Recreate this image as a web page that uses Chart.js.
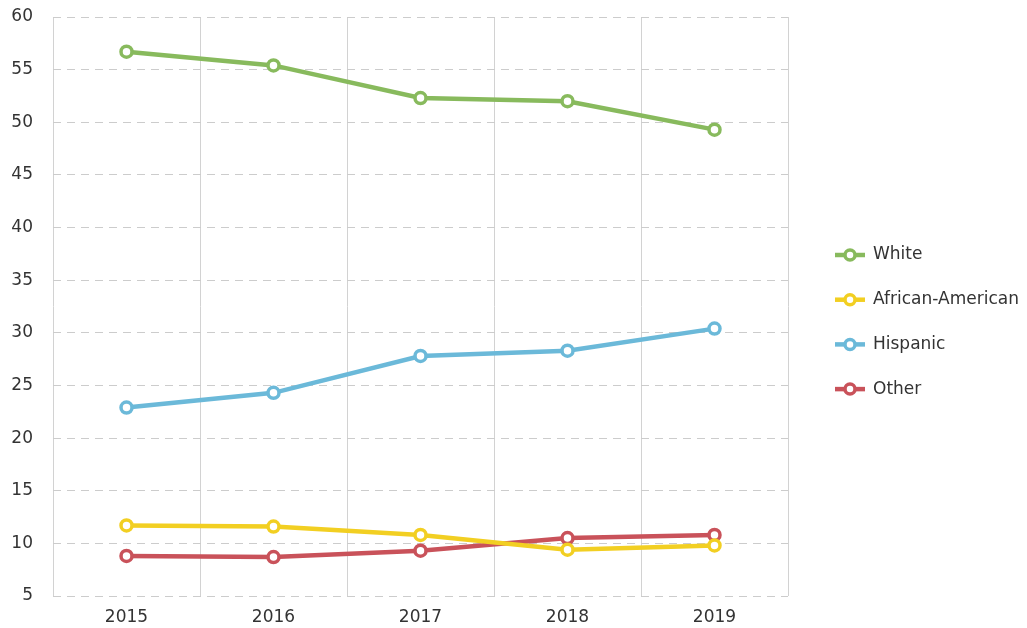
<!DOCTYPE html>
<html>
<head>
<meta charset="utf-8">
<script src="https://cdn.jsdelivr.net/npm/chart.js@4.4.0/dist/chart.umd.min.js"></script>
<style>
  html, body { margin: 0; padding: 0; background: #fff; }
  #wrap { width: 1027px; height: 628px; }
</style>
</head>
<body>
<div id="wrap"><canvas id="trendChart" width="1027" height="628"></canvas></div>
<script>
// Data
const years = ['2015', '2016', '2017', '2018', '2019'];
const white = [56.7, 55.4, 52.3, 52.0, 49.3];
const africanAmerican = [11.7, 11.6, 10.8, 9.4, 9.8];
const hispanic = [22.9, 24.3, 27.8, 28.3, 30.4];
const other = [8.8, 8.7, 9.3, 10.5, 10.8];

const seriesNames = ['White', 'African-American', 'Hispanic', 'Other'];
const seriesColors = ['#88ba5d', '#f2cf22', '#6bb9d9', '#c9525a'];

const FONT = '"DejaVu Sans", Verdana, sans-serif';
const TEXT = '#333333';

function makeDataset(label, data, color) {
    return {
        label: label,
        data: data,
        borderColor: color,
        backgroundColor: '#ffffff',
        borderWidth: 4.5,
        pointRadius: 5.5,
        pointHoverRadius: 5.5,
        pointBorderWidth: 3.5,
        pointBackgroundColor: '#ffffff',
        pointBorderColor: color,
        tension: 0,
        fill: false
    };
}

// Legend drawn to the right: short line with a hollow circle, then the name
const sideLegend = {
    id: 'sideLegend',
    afterDraw(chart) {
        const ctx = chart.ctx;
        const startY = 255;
        const step = 44.7;
        ctx.save();
        chart.data.datasets.forEach(function(ds, i) {
            const y = startY + i * step;
            ctx.strokeStyle = ds.borderColor;
            ctx.lineWidth = 4.5;
            ctx.beginPath();
            ctx.moveTo(835, y);
            ctx.lineTo(865, y);
            ctx.stroke();
            ctx.fillStyle = '#ffffff';
            ctx.lineWidth = 3.5;
            ctx.beginPath();
            ctx.arc(850, y, 5, 0, Math.PI * 2);
            ctx.fill();
            ctx.stroke();
            ctx.fillStyle = TEXT;
            ctx.font = '17px ' + FONT;
            ctx.textBaseline = 'middle';
            ctx.textAlign = 'left';
            ctx.fillText(ds.label, 873, y);
        });
        ctx.restore();
    }
};

new Chart(document.getElementById('trendChart').getContext('2d'), {
    type: 'line',
    data: {
        labels: years,
        datasets: [
            makeDataset(seriesNames[0], white, seriesColors[0]),
            makeDataset(seriesNames[1], africanAmerican, seriesColors[1]),
            makeDataset(seriesNames[2], hispanic, seriesColors[2]),
            makeDataset(seriesNames[3], other, seriesColors[3])
        ]
    },
    options: {
        responsive: false,
        animation: false,
        layout: { padding: { top: 17, right: 239, bottom: 0, left: 0 } },
        plugins: {
            legend: { display: false },
            tooltip: { enabled: false }
        },
        scales: {
            x: {
                offset: true,
                grid: { offset: true, color: '#d2d2d2', lineWidth: 1, drawTicks: false },
                border: { display: false },
                ticks: { color: TEXT, font: { family: FONT, size: 17 }, padding: 11 },
                afterFit: function(scale) { scale.height = 32; }
            },
            y: {
                min: 5,
                max: 60,
                ticks: { stepSize: 5, color: TEXT, font: { family: FONT, size: 17 }, padding: 20 },
                grid: { color: '#cccccc', lineWidth: 1, drawTicks: false },
                border: { display: false, dash: [8, 6] },
                afterFit: function(scale) {
                    scale.width = 53;
                    scale.paddingTop = 0;
                    scale.paddingBottom = 0;
                }
            }
        }
    },
    plugins: [sideLegend]
});
</script>
</body>
</html>
